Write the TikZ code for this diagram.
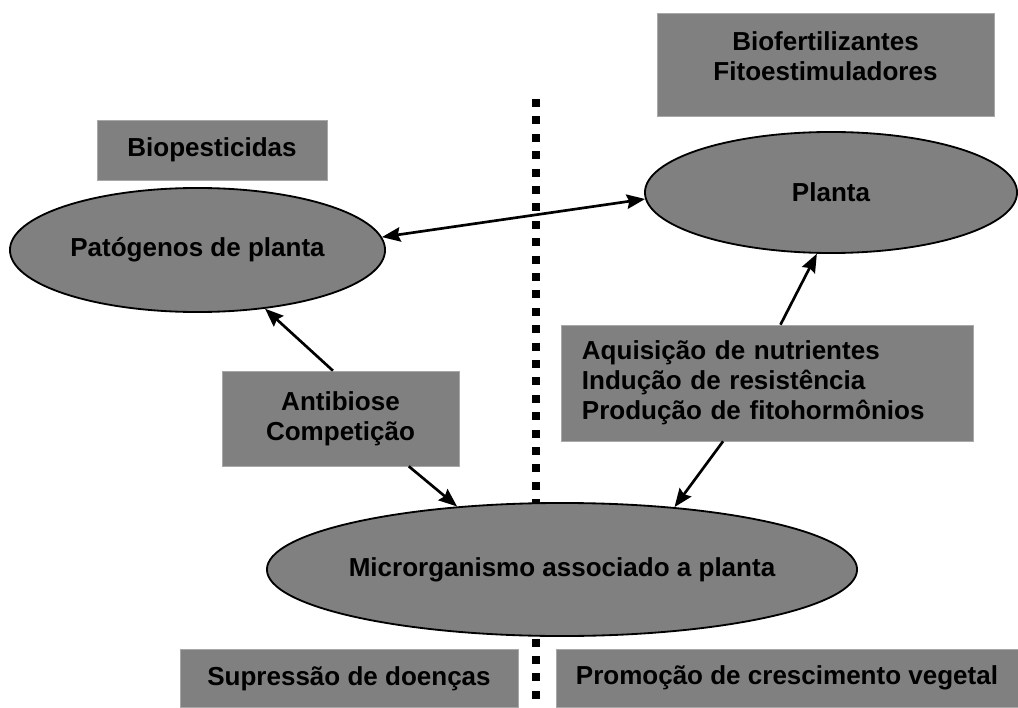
\documentclass[tikz,border=0pt]{standalone}
\usepackage{fontspec}
\setmainfont{Liberation Sans}
\usepackage{tikz}
\usetikzlibrary{shapes.geometric,arrows.meta}
\definecolor{cinza}{HTML}{808080}
\definecolor{borda}{HTML}{A8A8A8}

\begin{document}
\begin{tikzpicture}
[x=0.025cm,y=-0.025cm,>={Stealth[length=0.46cm,width=0.36cm,inset=0.06cm]},
every node/.style={font=\bfseries\fontsize{18.5}{21.3}\selectfont},
caixa/.style={rectangle,fill=cinza,draw=borda,line width=0.4pt,inner sep=0pt,align=center},
elipse/.style={ellipse,fill=cinza,draw=black,line width=1.3pt,inner sep=0pt},
seta/.style={->,line width=1.9pt},]

\useasboundingbox (0,0) rectangle (1018,708);

\coordinate (dtop) at (536,99);
\coordinate (dbot) at (536,708);
\draw[line width=0.2cm,dash pattern=on 0.2cm off 0.235cm] (dtop)--(dbot);

\node (biof) at (825.5, 64.5)[caixa,minimum width=8.425cm,minimum height=2.575cm,text depth=0.4cm]{Biofertilizantes\\Fitoestimuladores};
\node (biop) at (212, 150)[caixa,minimum width=5.75cm,minimum height=1.5cm]{Biopesticidas};
\node (pat) at (197.5, 250)[elipse,minimum width=9.375cm,minimum height=3.1cm]{Patógenos de planta};
\node (planta) at (831, 192.5)[elipse,minimum width=9.3cm,minimum height=3.025cm]{Planta};
\node (aq) at (767, 383)[caixa,minimum width=10.3cm,minimum height=2.9cm,text width=9.25cm,inner xsep=0.525cm,align=left]{Aquisição de nutrientes\\Indução de resistência\\Produção de fitohormônios};
\node (anti) at (340.5, 418.5)[caixa,minimum width=5.925cm,minimum height=2.375cm]{Antibiose\\Competição};
\node (micro) at (562, 569.5)[elipse,minimum width=14.75cm,minimum height=3.325cm,label={center:Microrganismo associado a planta}]{};
\node (sup) at (349, 678.5)[caixa,minimum width=8.45cm,minimum height=1.45cm]{Supressão de doenças};
\node (prom) at (787, 678)[caixa,minimum width=11.55cm,minimum height=1.45cm]{Promoção de crescimento vegetal};

\draw[<->,line width=1.9pt] (pat.4)--(planta.182);
\draw[seta] (anti.99)--(pat.-41);
\draw[seta] (anti.-35)--(micro.149);
\draw[seta] (aq.77)--(planta.-103);
\draw[seta] (aq.233)--(micro.29);

\end{tikzpicture}
\end{document}
